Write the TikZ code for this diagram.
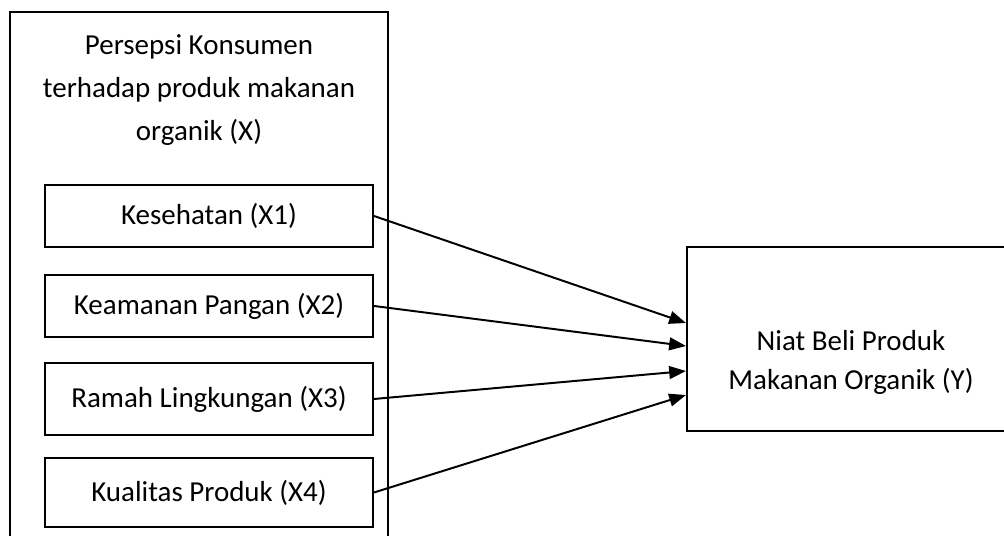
\documentclass[tikz,border=0pt]{standalone}
\usepackage{fontspec}
\setmainfont{Carlito}
\usetikzlibrary{arrows.meta, positioning}

\begin{document}
\begin{tikzpicture}[
      x=0.025cm, y=-0.025cm,
      box/.style={draw=black, line width=1.4pt, minimum width=8.2cm,
                  inner sep=0pt, align=center,
                  font=\fontsize{20.6}{30.6}\selectfont},
      lbl/.style={align=center, inner sep=0pt},
      arr/.style={-{Triangle[length=4.2mm, width=3.2mm]}, line width=1.4pt}
    ]
    \useasboundingbox (0,0) rectangle (1004,536);
    \clip (0,0) rectangle (1004,536);

    \node[box, minimum width=9.45cm, minimum height=13.7cm] (persepsi) at (199,286) {};
    \node[lbl, font=\fontsize{20.6}{30.8}\selectfont] (judul) at (199,90)
      {Persepsi Konsumen\\terhadap produk makanan\\organik (X)};

    \node[box, minimum height=1.55cm] (x1) at (209,216) {Kesehatan (X1)};
    \node[box, minimum height=1.55cm, below=0.65cm of x1] (x2) {Keamanan Pangan (X2)};
    \node[box, minimum height=1.8cm, below=0.6cm of x2] (x3) {Ramah Lingkungan (X3)};
    \node[box, minimum height=1.725cm, below=0.525cm of x3] (x4) {Kualitas Produk (X4)};

    \node[box, minimum height=4.6cm] (niat) at (851,339) {};
    \node[lbl, font=\fontsize{20.6}{27.7}\selectfont] (niatlbl) at (851,362)
      {Niat Beli Produk\\Makanan Organik (Y)};

    \draw[arr] (x1.east) -- ([yshift=0.4cm]niat.west);
    \draw[arr] (x2.east) -- ([yshift=-0.175cm]niat.west);
    \draw[arr] (x3.east) -- ([yshift=-0.8cm]niat.west);
    \draw[arr] (x4.east) -- ([yshift=-1.4cm]niat.west);
  \end{tikzpicture}
\end{document}
